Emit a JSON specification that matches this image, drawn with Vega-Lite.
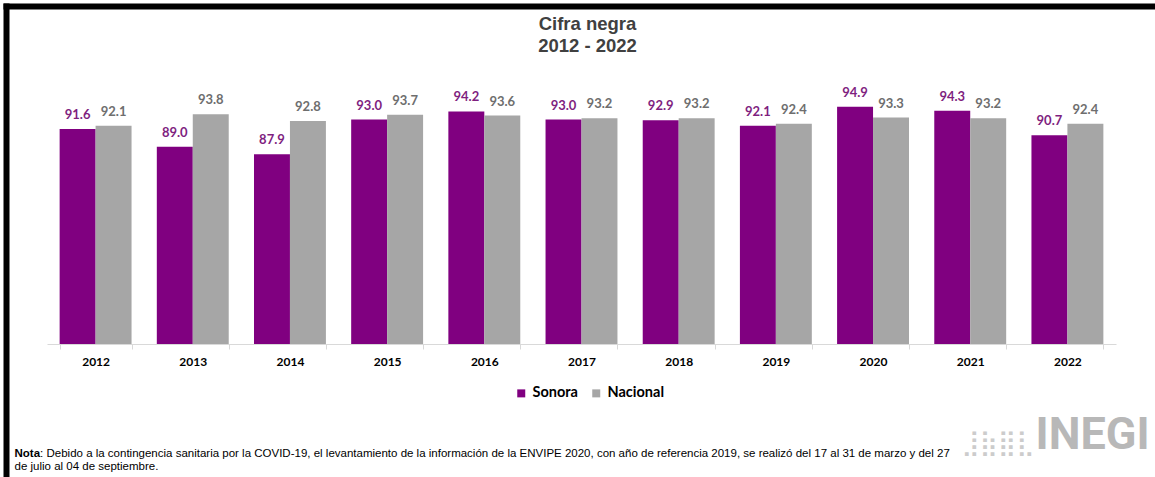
{
  "$schema": "https://vega.github.io/schema/vega-lite/v6.json",
  "width": 1069,
  "height": 272,
  "autosize": {"type": "none"},
  "padding": {"left": 47, "top": 72, "right": 39, "bottom": 133},
  "background": "white",
  "title": {
    "text": ["Cifra negra", "2012 - 2022"],
    "font": "Liberation Sans",
    "fontSize": 18.5,
    "fontWeight": "bold",
    "color": "#404040",
    "lineHeight": 22,
    "anchor": "middle",
    "offset": -49,
    "dx": 6
  },
  "data": {
    "values": [
      {"year": "2012", "group": "Sonora", "value": 91.6},
      {"year": "2012", "group": "Nacional", "value": 92.1},
      {"year": "2013", "group": "Sonora", "value": 89.0},
      {"year": "2013", "group": "Nacional", "value": 93.8},
      {"year": "2014", "group": "Sonora", "value": 87.9},
      {"year": "2014", "group": "Nacional", "value": 92.8},
      {"year": "2015", "group": "Sonora", "value": 93.0},
      {"year": "2015", "group": "Nacional", "value": 93.7},
      {"year": "2016", "group": "Sonora", "value": 94.2},
      {"year": "2016", "group": "Nacional", "value": 93.6},
      {"year": "2017", "group": "Sonora", "value": 93.0},
      {"year": "2017", "group": "Nacional", "value": 93.2},
      {"year": "2018", "group": "Sonora", "value": 92.9},
      {"year": "2018", "group": "Nacional", "value": 93.2},
      {"year": "2019", "group": "Sonora", "value": 92.1},
      {"year": "2019", "group": "Nacional", "value": 92.4},
      {"year": "2020", "group": "Sonora", "value": 94.9},
      {"year": "2020", "group": "Nacional", "value": 93.3},
      {"year": "2021", "group": "Sonora", "value": 94.3},
      {"year": "2021", "group": "Nacional", "value": 93.2},
      {"year": "2022", "group": "Sonora", "value": 90.7},
      {"year": "2022", "group": "Nacional", "value": 92.4}
    ]
  },
  "layer": [
    {
      "encoding": {
        "x": {
          "field": "year",
          "type": "nominal",
          "scale": {"paddingInner": 0.26, "paddingOuter": 0.13},
          "axis": {
            "orient": "bottom",
            "title": "de julio al 04 de septiembre.",
            "labelFont": "Lato",
            "labelFontSize": 12,
            "labelFontWeight": "bold",
            "labelColor": "black",
            "labelAngle": 0,
            "labelPadding": 7,
            "domainColor": "#d9d9d9",
            "tickColor": "#d9d9d9",
            "tickSize": 5,
            "tickBand": "extent",
            "titleFont": "Liberation Sans",
            "titleFontSize": 11.5,
            "titleFontWeight": "normal",
            "titleColor": "black",
            "titleAlign": "left",
            "titleAnchor": "start",
            "titleX": -33,
            "titleY": 125,
            "titleBaseline": "alphabetic"
          }
        },
        "xOffset": {
          "field": "group",
          "type": "nominal",
          "sort": ["Sonora", "Nacional"],
          "scale": {"paddingInner": 0, "paddingOuter": 0}
        }
      },
      "layer": [
        {
          "mark": {"type": "bar"},
          "encoding": {
            "y": {
              "field": "value",
              "type": "quantitative",
              "scale": {"domain": [60, 100], "zero": false},
              "axis": {
                "labels": false,
                "ticks": false,
                "domain": false,
                "grid": false,
                "title": "Nota",
                "titleAngle": 0,
                "titleAlign": "left",
                "titleBaseline": "alphabetic",
                "titleX": -33,
                "titleY": 384,
                "titleFont": "Liberation Sans",
                "titleFontSize": 11.5,
                "titleFontWeight": "bold",
                "titleColor": "black"
              }
            },
            "y2": {"datum": 60},
            "color": {
              "field": "group",
              "type": "nominal",
              "scale": {"domain": ["Sonora", "Nacional"], "range": ["#800080", "#A6A6A6"]},
              "legend": {
                "orient": "none",
                "legendX": 467,
                "legendY": 314,
                "direction": "horizontal",
                "title": null,
                "symbolType": "square",
                "symbolSize": 64,
                "symbolStrokeWidth": 0,
                "labelFont": "Lato",
                "labelFontSize": 14.5,
                "labelFontWeight": "bold",
                "labelColor": "black",
                "labelOffset": 4,
                "columnPadding": 11,
                "padding": 0
              }
            }
          }
        },
        {
          "mark": {"type": "text", "font": "Lato", "fontSize": 13, "fontWeight": "bold", "baseline": "alphabetic", "dy": -10},
          "encoding": {
            "y": {
              "field": "value",
              "type": "quantitative",
              "scale": {"domain": [60, 100], "zero": false},
              "axis": {
                "orient": "right",
                "labels": false,
                "ticks": false,
                "domain": false,
                "grid": false,
                "title": "INEGI",
                "titleAngle": 0,
                "titleAlign": "left",
                "titleBaseline": "alphabetic",
                "titleX": -81,
                "titleY": 376,
                "titleFont": "Roboto",
                "titleFontSize": 45,
                "titleFontWeight": "bold",
                "titleColor": "#b8b8b8"
              }
            },
            "text": {"field": "value", "type": "quantitative", "format": ".1f"},
            "color": {
              "condition": {"test": "datum.group === 'Sonora'", "value": "#7F1F7F"},
              "value": "#6E6E6E"
            }
          }
        }
      ],
      "resolve": {"scale": {"y": "independent"}}
    },
    {
      "mark": {"type": "text", "opacity": 0},
      "encoding": {
        "x": {
          "field": "year",
          "type": "nominal",
          "scale": {"range": [-44, 1108]},
          "axis": {
            "orient": "top",
            "offset": 66,
            "labels": false,
            "ticks": false,
            "domain": true,
            "domainColor": "black",
            "domainWidth": 6,
            "grid": false,
            "title": ": Debido a la contingencia sanitaria por la COVID-19, el levantamiento de la información de la ENVIPE 2020, con año de referencia 2019, se realizó del 17 al 31 de marzo y del 27",
            "titleFont": "Liberation Sans",
            "titleFontSize": 11.5,
            "titleFontWeight": "normal",
            "titleColor": "black",
            "titleAlign": "left",
            "titleAnchor": "start",
            "titleX": -7.4,
            "titleY": 450,
            "titleBaseline": "alphabetic"
          }
        },
        "y": {
          "field": "value",
          "type": "quantitative",
          "scale": {"range": [405, -69]},
          "axis": {
            "orient": "left",
            "offset": 41,
            "labels": false,
            "ticks": false,
            "domain": true,
            "domainColor": "black",
            "domainWidth": 6,
            "grid": false,
            "title": "⣸⣷⣿⣇",
            "titleAngle": 0,
            "titleAlign": "left",
            "titleBaseline": "alphabetic",
            "titleX": 955,
            "titleY": 378,
            "titleFont": "DejaVu Sans",
            "titleFontSize": 25,
            "titleFontWeight": "normal",
            "titleColor": "#cccccc"
          }
        },
        "text": {"value": ""}
      }
    }
  ],
  "resolve": {"scale": {"x": "independent", "y": "independent"}},
  "config": {"view": {"stroke": null}}
}
